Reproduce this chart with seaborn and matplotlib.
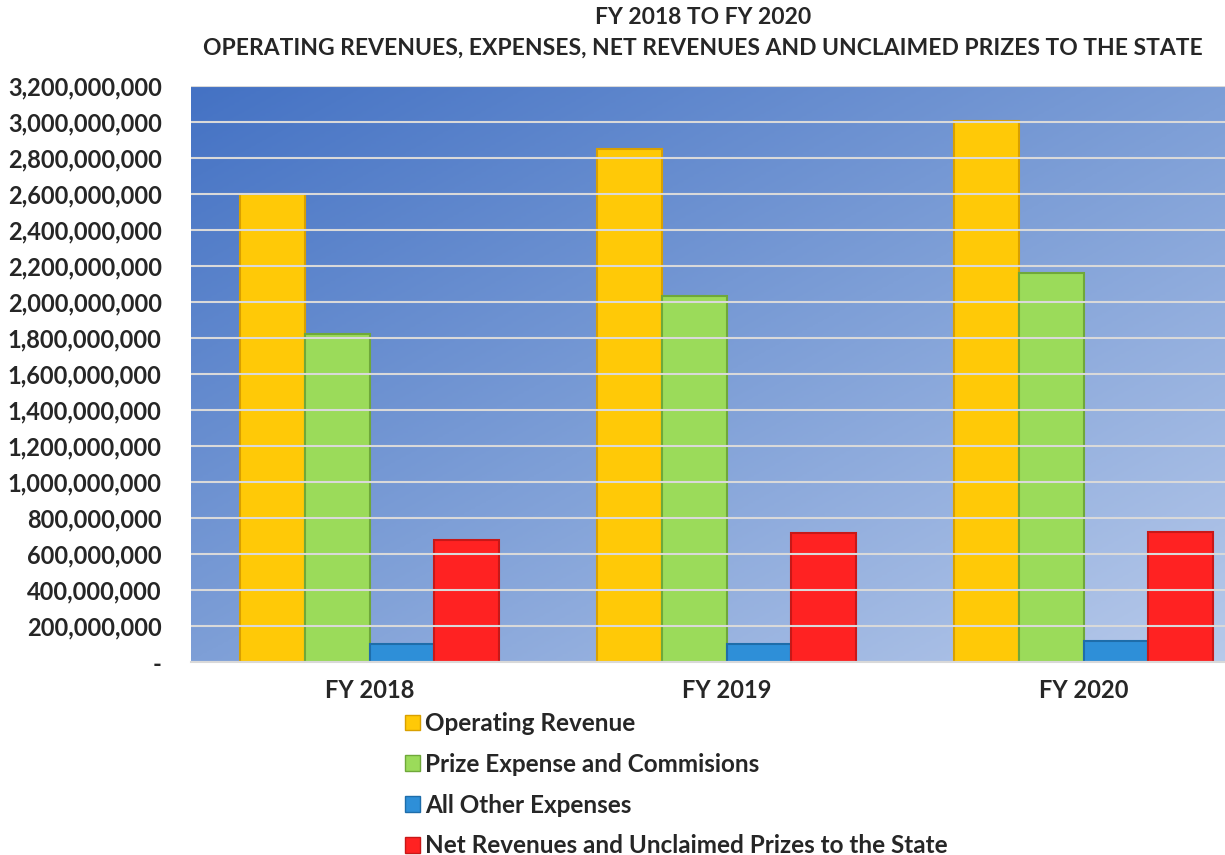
import numpy as np
import pandas as pd
import matplotlib
matplotlib.use("Agg")
import matplotlib.pyplot as plt
from matplotlib.ticker import FuncFormatter, MultipleLocator
from matplotlib.colors import LinearSegmentedColormap
import seaborn as sns

years = ["FY 2018", "FY 2019", "FY 2020"]
series = ["Operating Revenue", "Prize Expense and Commisions",
          "All Other Expenses", "Net Revenues and Unclaimed Prizes to the State"]
operating_revenue = [2_600_000_000, 2_850_000_000, 3_005_000_000]
prize_expense = [1_822_000_000, 2_035_000_000, 2_160_000_000]
other_expenses = [98_000_000, 100_000_000, 118_000_000]
net_revenues = [678_000_000, 715_000_000, 724_000_000]
colors = ["#FFC907", "#9BDB5A", "#2E8FD8", "#FF2222"]
edge_colors = ["#D9A000", "#6FA83A", "#1E6DAA", "#C81818"]

title = "FY 2018 TO FY 2020\nOPERATING REVENUES, EXPENSES, NET REVENUES AND UNCLAIMED PRIZES TO THE STATE"

df = pd.DataFrame({
    "Year": years * 4,
    "Series": [s for s in series for _ in years],
    "Value": operating_revenue + prize_expense + other_expenses + net_revenues,
})

sns.set_theme(style="white")
plt.rcParams["font.family"] = ["Lato", "DejaVu Sans"]
plt.rcParams["font.weight"] = "bold"

W, H = 1225, 855
fig = plt.figure(figsize=(W / 100, H / 100), dpi=100)
# plot area runs slightly past the right edge of the image, as in the reference
ax = fig.add_axes([191 / W, 1 - 662 / H, 1071 / W, (662 - 86) / H])

# gradient background
nx, ny = 200, 200
xx, yy = np.meshgrid(np.linspace(0, 1, nx), np.linspace(0, 1, ny))
t = (xx + yy) / 2
cmap = LinearSegmentedColormap.from_list("bg", ["#4472C4", "#7E9FD7", "#B9CBEB"])
ax.imshow(t, cmap=cmap, extent=[0, 1, 0, 1], transform=ax.transAxes,
          aspect="auto", zorder=0, origin="upper")

sns.barplot(data=df, x="Year", y="Value", hue="Series", palette=colors,
            width=0.728, ax=ax, zorder=2, saturation=1, legend=False)

for cont, ec in zip(ax.containers, edge_colors):
    for p in cont:
        p.set_edgecolor(ec)
        p.set_linewidth(1.5)

ax.set_ylim(0, 3_200_000_000)
ax.yaxis.set_major_locator(MultipleLocator(200_000_000))
ax.yaxis.set_major_formatter(FuncFormatter(lambda v, p: "-" if v == 0 else f"{v:,.0f}"))
ax.set_xlim(-0.5, 2.5)
ax.grid(axis="y", color="#D9D9D9", linewidth=1.5)
ax.set_axisbelow(False)
for gl in ax.get_ygridlines():
    gl.set_zorder(1)
ax.set_xlabel("")
ax.set_ylabel("")
for s in ["top", "right", "left"]:
    ax.spines[s].set_visible(False)
ax.spines["bottom"].set_color("#D9D9D9")
ax.spines["bottom"].set_linewidth(1.5)
ax.tick_params(axis="y", labelsize=17, pad=21, length=0)
ax.tick_params(axis="x", labelsize=17, pad=12, length=0)
for lab in ax.get_yticklabels() + ax.get_xticklabels():
    lab.set_fontweight("bold")

fig.suptitle(title, y=0.992, fontsize=16.5, fontweight="bold", linespacing=1.6, x=703 / W)

handles = [plt.Rectangle((0, 0), 1, 1, facecolor=c, edgecolor=e) for c, e in zip(colors, edge_colors)]
fig.legend(handles, series, loc="upper left", bbox_to_anchor=(393 / W, 1 - 700 / H),
           frameon=False, handlelength=0.62, handleheight=0.62,
           handletextpad=0.2, labelspacing=0.73, borderpad=0,
           prop={"weight": "bold", "size": 17.5})

fig.savefig("out.png", dpi=100)
